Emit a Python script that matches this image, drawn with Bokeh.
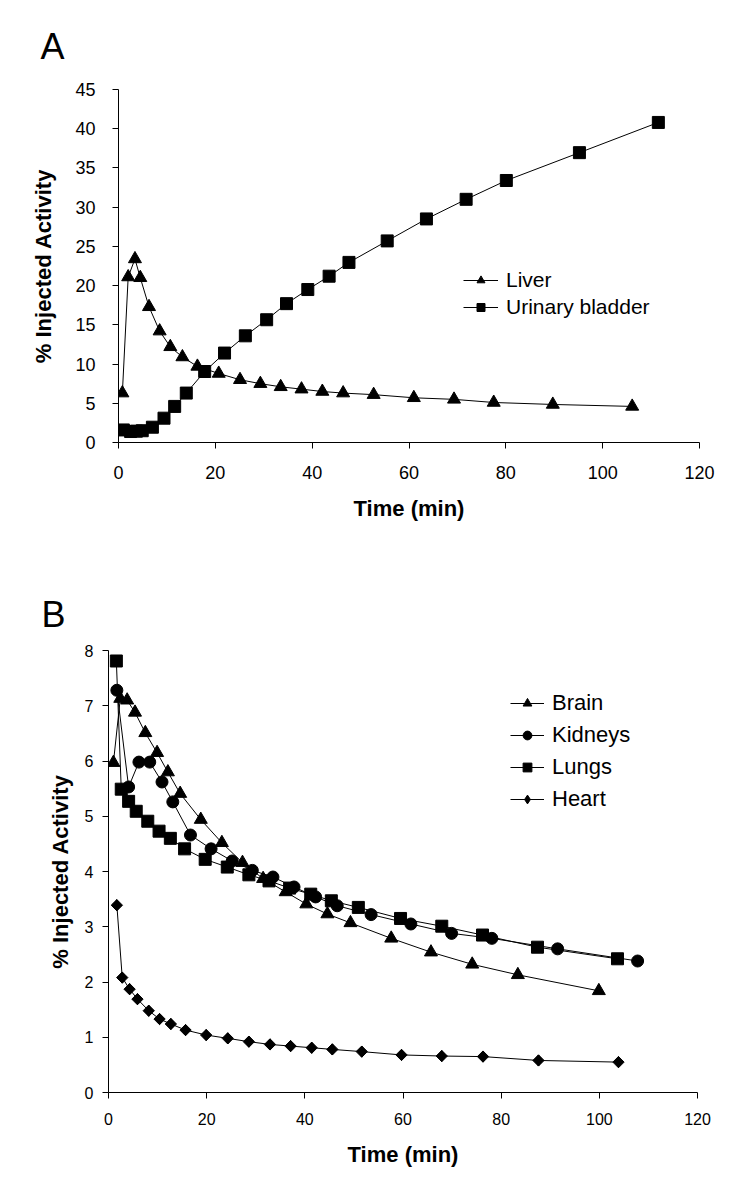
import numpy as np
from bokeh.plotting import figure
from bokeh.layouts import column
from bokeh.models import Legend, LegendItem, FixedTicker, Range1d
from bokeh.embed import file_html
from bokeh.resources import INLINE

FONT = "Liberation Sans"

# ---------------- Panel A data ----------------
liver_t = [0.8, 2.0, 3.4, 4.5, 6.3, 8.5, 10.7, 13.2, 16.3, 20.7, 25.1, 29.3, 33.5, 37.8,
           42.1, 46.4, 52.7, 61.0, 69.3, 77.5, 89.7, 106.1]
liver_v = [6.3, 21.1, 23.4, 21.0, 17.3, 14.2, 12.2, 10.9, 9.7, 8.8, 8.0, 7.5, 7.1, 6.8,
           6.5, 6.3, 6.1, 5.7, 5.5, 5.1, 4.85, 4.6]
bladder_t = [1.0, 2.5, 3.7, 4.9, 7.0, 9.4, 11.6, 14.0, 17.8, 21.9, 26.2, 30.6, 34.7, 39.1,
             43.5, 47.6, 55.5, 63.6, 71.8, 80.1, 95.2, 111.5]
bladder_v = [1.6, 1.4, 1.45, 1.5, 1.95, 3.1, 4.6, 6.3, 9.05, 11.4, 13.6, 15.65, 17.7, 19.5,
             21.2, 22.96, 25.7, 28.5, 31.0, 33.4, 36.95, 40.8]

# ---------------- Panel B data ----------------
brain_t = [1.0, 2.4, 3.8, 5.4, 7.5, 9.9, 12.1, 14.6, 18.8, 23.1, 27.3, 31.5, 36.1, 40.3,
           44.6, 49.3, 57.6, 65.7, 74.1, 83.4, 99.9]
brain_v = [5.97, 7.13, 7.10, 6.88, 6.51, 6.15, 5.80, 5.41, 4.94, 4.52, 4.16, 3.87, 3.63, 3.41,
           3.23, 3.07, 2.79, 2.54, 2.32, 2.13, 1.84]
kidneys_t = [1.7, 4.1, 6.2, 8.4, 10.9, 13.1, 16.7, 20.9, 25.2, 29.3, 33.5, 37.8, 42.2, 46.6,
             53.5, 61.6, 69.9, 78.1, 91.5, 107.8]
kidneys_v = [7.28, 5.53, 5.98, 5.98, 5.62, 5.26, 4.66, 4.41, 4.19, 4.02, 3.90, 3.72, 3.54, 3.38,
             3.22, 3.05, 2.88, 2.79, 2.60, 2.38]
lungs_t = [1.6, 2.6, 4.1, 5.65, 8.0, 10.3, 12.6, 15.5, 19.7, 24.2, 28.6, 32.7, 36.9, 41.2,
           45.4, 50.9, 59.5, 67.9, 76.2, 87.4, 103.7]
lungs_v = [7.81, 5.49, 5.27, 5.09, 4.91, 4.73, 4.60, 4.41, 4.22, 4.08, 3.94, 3.83, 3.70, 3.59,
           3.47, 3.35, 3.15, 3.01, 2.85, 2.63, 2.42]
heart_t = [1.7, 2.8, 4.3, 5.9, 8.2, 10.4, 12.7, 15.7, 19.9, 24.3, 28.6, 32.9, 37.1, 41.4,
           45.6, 51.6, 59.7, 67.9, 76.3, 87.6, 103.9]
heart_v = [3.39, 2.08, 1.87, 1.69, 1.48, 1.33, 1.24, 1.13, 1.04, 0.98, 0.92, 0.87, 0.84, 0.81,
           0.78, 0.74, 0.68, 0.66, 0.65, 0.58, 0.55]

x_ticks = [0, 20, 40, 60, 80, 100, 120]
a_y_ticks = [0, 5, 10, 15, 20, 25, 30, 35, 40, 45]
b_y_ticks = [0, 1, 2, 3, 4, 5, 6, 7, 8]


def style_axes(p, tick_size, ystand, xstand, ylab_stand, xlab_stand):
    for ax in (p.xaxis[0], p.yaxis[0]):
        ax.axis_line_color = "black"
        ax.axis_line_width = 1
        ax.major_tick_line_color = "black"
        ax.major_tick_out = 6
        ax.major_tick_in = 0
        ax.minor_tick_line_color = None
        ax.major_label_text_font = FONT
        ax.major_label_text_font_size = tick_size
        ax.major_label_text_color = "black"
        ax.axis_label_text_font = FONT
        ax.axis_label_text_font_size = "22px"
        ax.axis_label_text_font_style = "bold"
        ax.axis_label_text_color = "black"
    p.yaxis[0].major_label_standoff = ystand
    p.xaxis[0].major_label_standoff = xstand
    p.yaxis[0].axis_label_standoff = ylab_stand
    p.xaxis[0].axis_label_standoff = xlab_stand
    p.xgrid.grid_line_color = None
    p.ygrid.grid_line_color = None
    p.outline_line_color = None


def style_title(p, offset, standoff):
    p.title.text_font = FONT
    p.title.text_font_size = "36px"
    p.title.text_font_style = "normal"
    p.title.text_color = "black"
    p.title.align = "left"
    p.title.offset = offset
    p.title.standoff = standoff


def no_frame_align(p):
    if "frame_align" in p.properties():
        p.frame_align = False


def add_series(p, t, v, marker, size, angle=0.0):
    ln = p.line(t, v, line_color="black", line_width=1)
    sc = p.scatter(t, v, marker=marker, size=size, angle=angle,
                   fill_color="black", line_color="black")
    return [ln, sc]


# ---------------- Panel A ----------------
pa = figure(width=734, height=575, output_backend="svg", toolbar_location=None,
            title="A",
            x_range=Range1d(0, 120), y_range=Range1d(0, 45),
            min_border_left=118, min_border_right=35, min_border_top=89, min_border_bottom=133,
            x_axis_label="Time (min)", y_axis_label="% Injected Activity")
pa.xaxis.ticker = FixedTicker(ticks=x_ticks)
pa.yaxis.ticker = FixedTicker(ticks=a_y_ticks)
style_axes(pa, "18px", 17, 17, 16, 14)
style_title(pa, -78, 46)
no_frame_align(pa)

liver_r = add_series(pa, liver_t, liver_v, "triangle", 13)
bladder_r = add_series(pa, bladder_t, bladder_v, "square", 12)

leg_a = Legend(items=[LegendItem(label="Liver", renderers=liver_r),
                      LegendItem(label="Urinary bladder", renderers=bladder_r)],
               location=(345, 123), orientation="vertical",
               label_text_font=FONT, label_text_font_size="21px", label_text_color="black",
               glyph_width=35, glyph_height=20, label_height=20, label_standoff=8,
               spacing=3, padding=0, margin=0,
               border_line_color=None, background_fill_alpha=0)
pa.add_layout(leg_a)

# ---------------- Panel B ----------------
pb = figure(width=734, height=601, output_backend="svg", toolbar_location=None,
            title="B",
            x_range=Range1d(0, 120), y_range=Range1d(0, 8),
            min_border_left=108, min_border_right=37, min_border_top=75, min_border_bottom=84,
            x_axis_label="Time (min)", y_axis_label="% Injected Activity")
pb.xaxis.ticker = FixedTicker(ticks=x_ticks)
pb.yaxis.ticker = FixedTicker(ticks=b_y_ticks)
style_axes(pb, "16px", 9, 14, 9, 14)
style_title(pb, -67, 32)
no_frame_align(pb)

brain_r = add_series(pb, brain_t, brain_v, "triangle", 13)
kidneys_r = add_series(pb, kidneys_t, kidneys_v, "circle", 12)
lungs_r = add_series(pb, lungs_t, lungs_v, "square", 12)
heart_r = add_series(pb, heart_t, heart_v, "square", 8, angle=np.pi / 4)
heart_key = pb.scatter(heart_t, heart_v, marker="diamond", size=11,
                       fill_color="black", line_color="black")

leg_b = Legend(items=[LegendItem(label="Brain", renderers=brain_r),
                      LegendItem(label="Kidneys", renderers=kidneys_r),
                      LegendItem(label="Lungs", renderers=lungs_r),
                      LegendItem(label="Heart", renderers=[heart_r[0], heart_key])],
               location=(402, 280), orientation="vertical",
               label_text_font=FONT, label_text_font_size="22px", label_text_color="black",
               glyph_width=34, glyph_height=22, label_height=22, label_standoff=8,
               spacing=6, padding=0, margin=0,
               border_line_color=None, background_fill_alpha=0)
pb.add_layout(leg_b)

layout = column(pa, pb, spacing=0)
open("out.html", "w").write(file_html(layout, INLINE))
